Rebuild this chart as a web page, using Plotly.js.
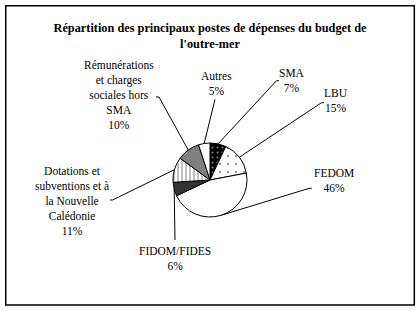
<!DOCTYPE html>
<html><head><meta charset="utf-8">
<script src="https://cdn.plot.ly/plotly-3.0.1.min.js"></script>
<style>html,body{margin:0;padding:0;background:#fff}</style>
</head><body><div id="chart" style="width:420px;height:311px"></div>
<script>
// ---- data ----
const categories = ["SMA", "LBU", "FEDOM", "FIDOM/FIDES",
  "Dotations et subventions et à la Nouvelle Calédonie",
  "Rémunérations et charges sociales hors SMA", "Autres"];
const values = [7, 15, 46, 6, 11, 10, 5];
const labelLines = ["SMA", "LBU", "FEDOM", "FIDOM/FIDES",
  "Dotations et<br>subventions et à<br>la Nouvelle<br>Calédonie",
  "Rémunérations<br>et charges<br>sociales hors<br>SMA", "Autres"];
const titleText = "Répartition des principaux postes de dépenses du budget de<br>l'outre-mer";

// ---- styles ----
const FONT = "Liberation Serif, Times New Roman, DejaVu Serif, serif";
const fillColors = ["#000000", "#ffffff", "#ffffff", "#333333", "#ffffff", "#808080", "#ffffff"];
const patternShapes = [".", ".", "", "", "|", "", ""];
const patternFg = ["#ffffff", "#000000", "#000000", "#000000", "#000000", "#000000", "#000000"];
const patternSize = [5, 8, 8, 8, 4, 8, 8];
const patternSolidity = [0.14, 0.06, 0.1, 0.1, 0.25, 0.1, 0.1];

// ---- layout (pixels) ----
const W = 420, H = 311;
const cx = 210, cy = 180, R = 37;
const labelPos = [[292, 80.5], [336, 100.5], [334, 180], [174.5, 258], [71.5, 200.5], [119, 95], [216.5, 83.5]];
const leaderAnchor = [[279, 80.7], [324, 102.7], [311.7, 188.3], [175, 240], [110, 200], [156, 97], [215, 99.3]];
const tickLen = [2.5, 2.5, 2.5, 0, -2.5, -3, 0];

const px = x => x / W;
const py = y => 1 - y / H;

const total = values.reduce((a, b) => a + b, 0);
let cum = 0;
const shapes = [];
const annotations = [];
values.forEach((v, i) => {
  const th = 2 * Math.PI * (cum + v / 2) / total;
  cum += v;
  const tx = cx + R * Math.sin(th), ty = cy - R * Math.cos(th);
  const [ax, ay] = leaderAnchor[i];
  const mx = ax - tickLen[i];
  shapes.push({
    type: "path", xref: "paper", yref: "paper",
    path: `M ${px(tx)} ${py(ty)} L ${px(mx)} ${py(ay)} L ${px(ax)} ${py(ay)}`,
    line: {color: "#000", width: 1}
  });
  annotations.push({
    xref: "paper", yref: "paper", x: px(labelPos[i][0]), y: py(labelPos[i][1]),
    xanchor: "center", yanchor: "middle", showarrow: false, align: "center",
    text: labelLines[i] + "<br>" + values[i] + "%",
    font: {family: FONT, size: 11.5, color: "#000"}
  });
});
shapes.push({
  type: "rect", xref: "paper", yref: "paper",
  x0: px(5.75), x1: px(414.3), y0: py(305), y1: py(5.75),
  line: {color: "#000", width: 1.5}, fillcolor: "rgba(0,0,0,0)"
});

const trace = {
  type: "pie",
  labels: categories,
  values: values,
  sort: false,
  direction: "clockwise",
  rotation: 0,
  textinfo: "none",
  textposition: "none",
  hoverinfo: "none",
  domain: {x: [px(cx - R), px(cx + R)], y: [py(cy + R), py(cy - R)]},
  marker: {
    colors: fillColors,
    line: {color: "#000", width: 1},
    pattern: {shape: patternShapes, fgcolor: patternFg, size: patternSize,
              solidity: patternSolidity, fillmode: "overlay"}
  }
};

const layout = {
  width: W, height: H, autosize: false,
  margin: {l: 0, r: 0, t: 0, b: 0, pad: 0},
  paper_bgcolor: "#fff", plot_bgcolor: "#fff",
  showlegend: false,
  font: {family: FONT},
  title: {text: titleText, x: 0.5, xanchor: "center", xref: "paper",
          y: py(32), yref: "container", yanchor: "middle",
          font: {family: FONT, size: 12.3, color: "#000", weight: "bold"}},
  shapes: shapes,
  annotations: annotations
};
Plotly.newPlot("chart", [trace], layout, {staticPlot: true, displayModeBar: false});
</script>
</body></html>
